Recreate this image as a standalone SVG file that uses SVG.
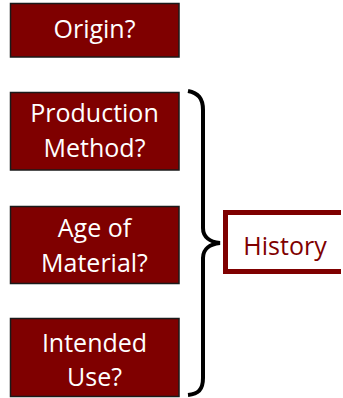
<svg xmlns="http://www.w3.org/2000/svg" width="343" height="398" viewBox="0 0 343 398">
<style>
.q{fill:#7f0000;stroke:#1a1a1a;stroke-width:1.5}
.t{font-family:"Open Sans","Liberation Sans",sans-serif;font-size:25px;fill:#ffffff;text-anchor:middle}
.h{font-family:"Open Sans","Liberation Sans",sans-serif;font-size:25px;fill:#7f0000;text-anchor:middle}
</style>
<rect width="343" height="398" fill="#ffffff"/>
<g id="origin"><rect class="q" x="10.5" y="3.5" width="168.5" height="53.5"/><text class="t" x="94.5" y="38">Origin?</text></g>
<g id="production"><rect class="q" x="10.5" y="92.5" width="168.5" height="77.5"/><text class="t" x="94.5" y="122">Production</text><text class="t" x="94.5" y="157">Method?</text></g>
<g id="age"><rect class="q" x="10.5" y="206.5" width="168.5" height="77"/><text class="t" x="94.5" y="237">Age of</text><text class="t" x="94.5" y="272">Material?</text></g>
<g id="use"><rect class="q" x="10.5" y="318.5" width="168.5" height="78"/><text class="t" x="94.5" y="352">Intended</text><text class="t" x="94.5" y="386">Use?</text></g>
<g id="connectors"><path d="M188,91 C198,93 203,98 203,110 L203,228 C203,237 210,242 220,243 C210,244 203,249 203,258 L203,378 C203,390 198,394 188,395" fill="none" stroke="#000000" stroke-width="4"/></g>
<g id="history"><rect x="223" y="210" width="118" height="64" fill="#ffffff"/><path d="M341,212.5 H225.5 V271.5 H341" fill="none" stroke="#7f0000" stroke-width="5"/><text class="h" x="285" y="255">History</text></g>
</svg>
